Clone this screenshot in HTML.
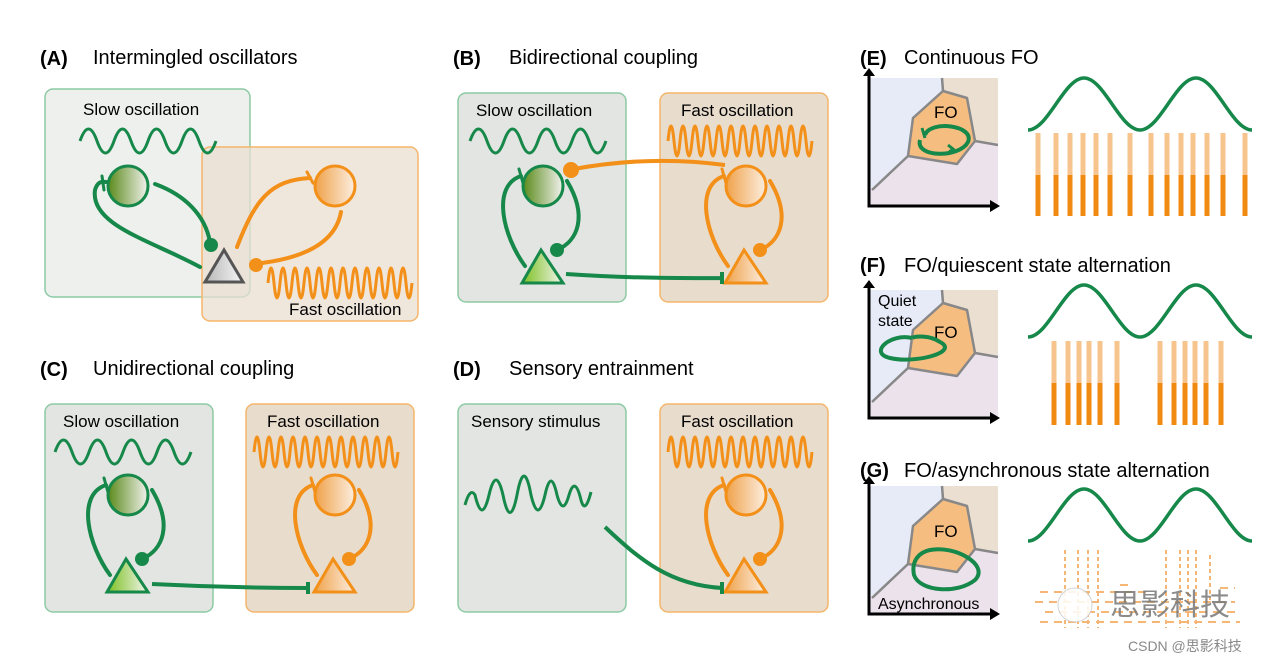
<!DOCTYPE html>
<html><head><meta charset="utf-8"><style>
html,body{margin:0;padding:0;background:#fff;width:1280px;height:664px;overflow:hidden}
text{font-family:"Liberation Sans","Noto Sans CJK SC",sans-serif}
</style></head><body>
<svg width="1280" height="664" viewBox="0 0 1280 664" xmlns="http://www.w3.org/2000/svg">
<defs>
<linearGradient id="gg" x1="0" x2="1"><stop offset="0" stop-color="#5a8a1a"/><stop offset="1" stop-color="#f2f2ee"/></linearGradient>
<linearGradient id="og" x1="0" x2="1"><stop offset="0" stop-color="#f0a24a"/><stop offset="1" stop-color="#fbeee0"/></linearGradient>
<linearGradient id="tg" x1="0" x2="1"><stop offset="0" stop-color="#7cc020"/><stop offset="1" stop-color="#f2f5ee"/></linearGradient>
<linearGradient id="gray" x1="0" x2="1"><stop offset="0" stop-color="#b8b8b8"/><stop offset="1" stop-color="#f5f5f5"/></linearGradient>
<g id="gc" fill="none" stroke="#16884a" stroke-width="4" stroke-linecap="round">
 <circle cx="0" cy="0" r="20" fill="url(#gg)" stroke-width="3"/>
 <path d="M-18,80 C-40,50 -52,0 -22,-10"/>
 <path d="M-24,-17 L-20,-3" stroke-width="3"/>
 <path d="M24,-5 C45,30 35,55 14,64"/>
 <circle cx="14" cy="64" r="7" fill="#16884a" stroke="none"/>
 <path d="M-2,64 L-21,97 L20,97 Z" fill="url(#tg)" stroke-linejoin="miter" stroke-width="3"/>
</g>
<g id="oc" fill="none" stroke="#f39019" stroke-width="4" stroke-linecap="round">
 <circle cx="0" cy="0" r="20" fill="url(#og)" stroke-width="3"/>
 <path d="M-18,80 C-40,50 -52,0 -22,-10"/>
 <path d="M-24,-17 L-20,-3" stroke-width="3"/>
 <path d="M24,-5 C45,30 35,55 14,64"/>
 <circle cx="14" cy="64" r="7" fill="#f39019" stroke="none"/>
 <path d="M-2,64 L-21,97 L20,97 Z" fill="url(#og)" stroke-linejoin="miter" stroke-width="3"/>
</g>
<path id="slow" d="M0,0 q8.5,-24 17,0 t17,0 t17,0 t17,0 t17,0 t17,0 t17,0 t17,0" fill="none" stroke="#16884a" stroke-width="3"/>
<path id="fast" d="M0,0 q3,-30 6,0 t6,0 t6,0 t6,0 t6,0 t6,0 t6,0 t6,0 t6,0 t6,0 t6,0 t6,0 t6,0 t6,0 t6,0 t6,0 t6,0 t6,0 t6,0 t6,0 t6,0 t6,0 t6,0 t6,0" fill="none" stroke="#f39019" stroke-width="3"/>
<path id="big" d="M0,0 c20,0 36,-52 56,-52 s36,52 56,52 s36,-52 56,-52 s36,52 56,52" fill="none" stroke="#16884a" stroke-width="3.5"/>
<g id="plot">
 <rect x="0" y="0" width="128" height="127" fill="#e7ebf7"/>
 <path d="M0,127 L0,112 L38,78 L87,86 L105,63 L128,65 L128,127 Z" fill="#ece2ec"/>
 <path d="M72,0 L128,0 L128,65 L105,63 L97,20 L73,13 Z" fill="#ebdfd2"/>
 <path d="M43,40 L73,13 L97,20 L105,63 L87,86 L38,78 Z" fill="#f6bd80" stroke="#888" stroke-width="2.5" stroke-linejoin="round"/>
 <path d="M2,112 L38,78 M105,63 L128,67 M73,13 L72,0" stroke="#888" stroke-width="2.5" fill="none"/>
 <path d="M-1,-5 L-1,128 L122,128" fill="none" stroke="#000" stroke-width="3"/>
 <path d="M-7,-2 L-1,-10 L5,-2 Z M120,122 L130,128 L120,134 Z" fill="#000"/>
</g>
</defs>

<!-- A -->
<text x="40" y="65" font-size="20" font-weight="bold">(A)</text>
<text x="93" y="64" font-size="20">Intermingled oscillators</text>
<rect x="45" y="89" width="205" height="208" rx="8" fill="#eef0ee" stroke="#8ccaa4" stroke-width="1.5"/>
<rect x="202" y="147" width="216" height="174" rx="8" fill="#e9ddd0" fill-opacity="0.75" stroke="#f5b56a" stroke-width="1.5"/>
<text x="83" y="115" font-size="17">Slow oscillation</text>
<text x="289" y="315" font-size="17">Fast oscillation</text>
<use href="#slow" x="80" y="141"/>
<use href="#fast" x="268" y="283"/>
<g fill="none" stroke-width="4" stroke-linecap="round">
 <circle cx="128" cy="186" r="20" fill="url(#gg)" stroke="#16884a" stroke-width="3"/>
 <path d="M200,267 C150,240 90,225 95,190 C98,180 103,182 106,182" stroke="#16884a"/>
 <path d="M102,176 L104,190" stroke="#16884a" stroke-width="3"/>
 <path d="M155,184 C185,195 205,215 210,242" stroke="#16884a"/>
 <circle cx="211" cy="245" r="7" fill="#16884a"/>
 <circle cx="335" cy="186" r="20" fill="url(#og)" stroke="#f39019" stroke-width="3"/>
 <path d="M237,247 C255,200 270,180 310,178" stroke="#f39019"/>
 <path d="M307,172 L313,183" stroke="#f39019" stroke-width="3"/>
 <path d="M341,212 C335,245 300,258 262,263" stroke="#f39019"/>
 <circle cx="256" cy="265" r="7" fill="#f39019"/>
 <path d="M224,250 L205,282 L243,282 Z" fill="url(#gray)" stroke="#555" stroke-width="3"/>
</g>

<!-- B -->
<text x="453" y="65" font-size="20" font-weight="bold">(B)</text>
<text x="509" y="64" font-size="20">Bidirectional coupling</text>
<rect x="458" y="93" width="168" height="209" rx="8" fill="#e2e5e1" stroke="#8ccaa4" stroke-width="1.5"/>
<rect x="660" y="93" width="168" height="209" rx="8" fill="#e8dccd" stroke="#f5b56a" stroke-width="1.5"/>
<text x="476" y="116" font-size="17">Slow oscillation</text>
<text x="681" y="116" font-size="17">Fast oscillation</text>
<use href="#slow" x="470" y="141"/>
<use href="#fast" x="668" y="141"/>
<use href="#gc" x="543" y="186"/>
<use href="#oc" x="746" y="186"/>
<path d="M725,165 Q650,155 574,169" fill="none" stroke="#f39019" stroke-width="4"/>
<circle cx="571" cy="170" r="8" fill="#f39019"/>
<path d="M566,274 Q640,279 722,278 M722,272 L722,284" fill="none" stroke="#16884a" stroke-width="4"/>

<!-- C -->
<text x="40" y="376" font-size="20" font-weight="bold">(C)</text>
<text x="93" y="375" font-size="20">Unidirectional coupling</text>
<rect x="45" y="404" width="168" height="208" rx="8" fill="#e2e5e1" stroke="#8ccaa4" stroke-width="1.5"/>
<rect x="246" y="404" width="168" height="208" rx="8" fill="#e8dccd" stroke="#f5b56a" stroke-width="1.5"/>
<text x="63" y="427" font-size="17">Slow oscillation</text>
<text x="267" y="427" font-size="17">Fast oscillation</text>
<use href="#slow" x="55" y="452"/>
<use href="#fast" x="254" y="452"/>
<use href="#gc" x="128" y="495"/>
<use href="#oc" x="335" y="495"/>
<path d="M152,584 Q230,588 308,588 M308,582 L308,594" fill="none" stroke="#16884a" stroke-width="4"/>

<!-- D -->
<text x="453" y="376" font-size="20" font-weight="bold">(D)</text>
<text x="509" y="375" font-size="20">Sensory entrainment</text>
<rect x="458" y="404" width="168" height="208" rx="8" fill="#e2e5e1" stroke="#8ccaa4" stroke-width="1.5"/>
<rect x="660" y="404" width="168" height="208" rx="8" fill="#e8dccd" stroke="#f5b56a" stroke-width="1.5"/>
<text x="471" y="427" font-size="17">Sensory stimulus</text>
<text x="681" y="427" font-size="17">Fast oscillation</text>
<path d="M465,505 q5,-18 10,-10 q7,30 14,0 q7,-30 14,0 q7,35 14,0 q7,-38 14,0 q7,30 14,0 q6,-28 12,0 q6,22 12,0 q6,-20 12,5 q4,15 10,-8" fill="none" stroke="#16884a" stroke-width="3"/>
<use href="#fast" x="668" y="452"/>
<use href="#oc" x="746" y="495"/>
<path d="M605,527 C640,560 670,585 722,588 M722,582 L722,594" fill="none" stroke="#16884a" stroke-width="4"/>

<!-- E -->
<text x="860" y="65" font-size="20" font-weight="bold">(E)</text>
<text x="904" y="64" font-size="20">Continuous FO</text>
<use href="#plot" x="870" y="78"/>
<text x="934" y="118" font-size="17">FO</text>
<path d="M925,135 C930,120 975,125 968,142 C960,158 915,158 920,140" fill="none" stroke="#16884a" stroke-width="4"/>
<path d="M922,128 l3,10 M948,145 l5,4 l-5,4" fill="none" stroke="#16884a" stroke-width="3"/>
<use href="#big" x="1028" y="130"/>
<g stroke-width="5">
<g stroke="#f7c48e"><path d="M1038,133V175M1056,133V175M1070,133V175M1083,133V175M1096,133V175M1110,133V175M1130,133V175M1151,133V175M1167,133V175M1181,133V175M1193,133V175M1207,133V175M1223,133V175M1245,133V175"/></g>
<g stroke="#f08a10"><path d="M1038,175V216M1056,175V216M1070,175V216M1083,175V216M1096,175V216M1110,175V216M1130,175V216M1151,175V216M1167,175V216M1181,175V216M1193,175V216M1207,175V216M1223,175V216M1245,175V216"/></g>
</g>

<!-- F -->
<text x="860" y="272" font-size="20" font-weight="bold">(F)</text>
<text x="904" y="272" font-size="20">FO/quiescent state alternation</text>
<use href="#plot" x="870" y="290"/>
<text x="878" y="306" font-size="16">Quiet</text>
<text x="878" y="326" font-size="16">state</text>
<text x="934" y="338" font-size="17">FO</text>
<path d="M912,338 C890,333 868,353 890,358 C915,364 960,352 940,342 C930,335 915,336 912,338" fill="none" stroke="#16884a" stroke-width="4"/>
<use href="#big" x="1028" y="337"/>
<g stroke-width="5">
<g stroke="#f7c48e"><path d="M1054,341V383M1068,341V383M1079,341V383M1089,341V383M1100,341V383M1117,341V383M1160,341V383M1174,341V383M1185,341V383M1195,341V383M1206,341V383M1221,341V383"/></g>
<g stroke="#f08a10"><path d="M1054,383V425M1068,383V425M1079,383V425M1089,383V425M1100,383V425M1117,383V425M1160,383V425M1174,383V425M1185,383V425M1195,383V425M1206,383V425M1221,383V425"/></g>
</g>

<!-- G -->
<text x="860" y="477" font-size="20" font-weight="bold">(G)</text>
<text x="904" y="477" font-size="20">FO/asynchronous state alternation</text>
<use href="#plot" x="870" y="486"/>
<text x="934" y="537" font-size="17">FO</text>
<text x="878" y="609" font-size="16">Asynchronous</text>
<path d="M930,550 C955,545 990,565 975,580 C958,594 920,592 914,575 C911,560 920,552 930,550" fill="none" stroke="#16884a" stroke-width="4"/>
<use href="#big" x="1028" y="541"/>
<g stroke="#f4a654" stroke-width="2" opacity="0.8">
<path d="M1065,550V628M1078,550V628M1088,550V628M1098,550V628M1166,550V628M1180,550V628M1188,550V628M1196,550V628M1210,555V600" stroke-dasharray="4 3"/>
<path d="M1040,592h110M1035,602h200M1045,612h190M1040,622h200M1120,585h10M1220,588h15" stroke-dasharray="8 6"/>
</g>
<circle cx="1075" cy="605" r="17" fill="#fff" opacity="0.85" stroke="#ccc"/>
<text x="1110" y="615" font-size="30" fill="#777" opacity="0.85">思影科技</text>
<text x="1128" y="651" font-size="14" fill="#888">CSDN @思影科技</text>
</svg>
</body></html>
